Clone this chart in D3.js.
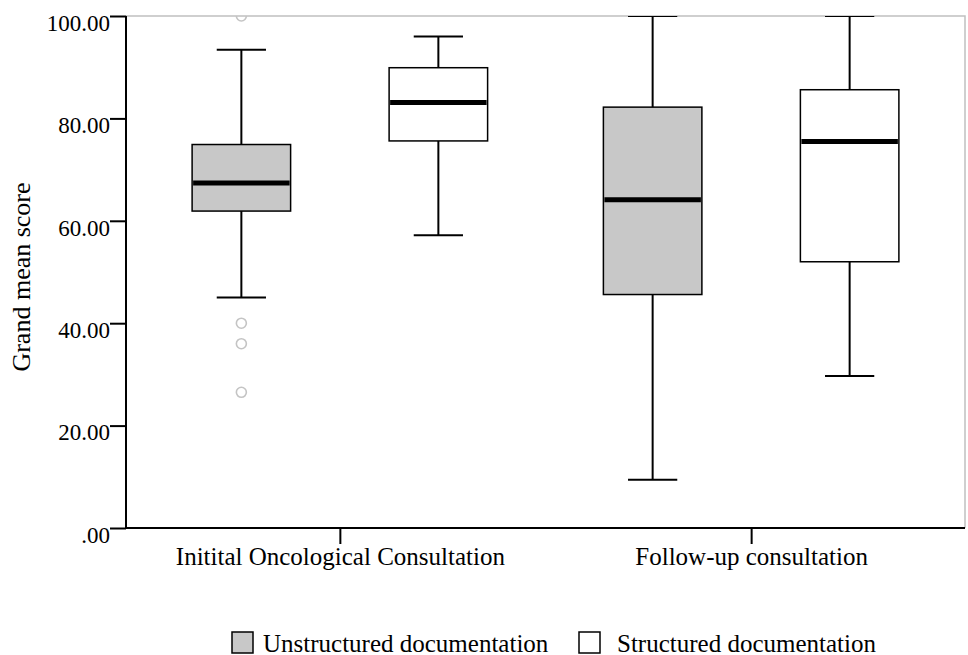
<!DOCTYPE html>
<html lang="en">
<head>
<meta charset="UTF-8">
<title>Grand mean score box plot</title>
<style>
  body { margin: 0; background: #fff; }
  text { font-family: "Liberation Serif", "Times New Roman", serif; fill: #000; }
  .box { stroke: #000; stroke-width: 1.5px; }
  .whisker { stroke: #000; stroke-width: 2px; }
  .median { stroke: #000; stroke-width: 5px; }
  .outlier { fill: none; stroke: #c4c4c4; stroke-width: 1.6px; }
</style>
</head>
<body>
<script src="https://d3js.org/d3.v7.min.js"></script>
<script>
    // data
    const categories = ['Initital Oncological Consultation', 'Follow-up consultation'];
    const series = ['Unstructured documentation', 'Structured documentation'];
    const seriesFill = ['#c8c8c8', '#ffffff'];

    // [category][series] : low whisker, Q1, median, Q3, high whisker
    const lowWhisker = [[45.0, 57.2], [9.4, 29.7]];
    const q1 = [[61.9, 75.6], [45.6, 52.0]];
    const median = [[67.4, 83.1], [64.1, 75.5]];
    const q3 = [[74.9, 89.9], [82.2, 85.6]];
    const highWhisker = [[93.4, 96.0], [100, 100]];
    const outliers = [[[100, 40.0, 36.0, 26.5], []], [[], []]];

    const yTicks = [0, 20, 40, 60, 80, 100];

    const width = 968, height = 655;
    const pLeft = 126, pRight = 965, pTop = 16, pBottom = 528;

    const svg = d3.select('body').append('svg')
        .attr('width', width)
        .attr('height', height);

    const y = d3.scaleLinear().domain([0, 100]).range([pBottom, pTop]);
    const x0 = d3.scalePoint().domain(categories).range([pLeft, pRight]).padding(0.52);
    const x1 = d3.scaleBand().domain(series).range([-197, 197])
        .paddingInner(0.5).paddingOuter(0.25);

    svg.append('clipPath').attr('id', 'plot')
        .append('rect').attr('x', pLeft).attr('y', pTop)
        .attr('width', pRight - pLeft).attr('height', pBottom - pTop);

    // grey frame top / right
    svg.append('path')
        .attr('d', `M${pLeft},${pTop}H${pRight}V${pBottom}`)
        .attr('fill', 'none')
        .attr('stroke', '#c0c0c0')
        .attr('stroke-width', 1.5);

    const rows = [];
    categories.forEach((c, ci) => {
        series.forEach((s, si) => {
            rows.push({
                cat: c, ser: s, si: si,
                lo: lowWhisker[ci][si], q1: q1[ci][si], med: median[ci][si],
                q3: q3[ci][si], hi: highWhisker[ci][si], out: outliers[ci][si]
            });
        });
    });

    const bw = x1.bandwidth();
    const g = svg.append('g').attr('clip-path', 'url(#plot)');

    const box = g.selectAll('g.boxplot')
        .data(rows)
        .enter().append('g')
        .attr('class', 'boxplot')
        .attr('transform', d => `translate(${x0(d.cat) + x1(d.ser) + bw / 2},0)`);

    box.append('line').attr('class', 'whisker')
        .attr('x1', 0).attr('x2', 0)
        .attr('y1', d => y(d.hi)).attr('y2', d => y(d.q3));
    box.append('line').attr('class', 'whisker')
        .attr('x1', 0).attr('x2', 0)
        .attr('y1', d => y(d.q1)).attr('y2', d => y(d.lo));
    box.append('line').attr('class', 'whisker')
        .attr('x1', -bw / 4).attr('x2', bw / 4)
        .attr('y1', d => y(d.hi)).attr('y2', d => y(d.hi));
    box.append('line').attr('class', 'whisker')
        .attr('x1', -bw / 4).attr('x2', bw / 4)
        .attr('y1', d => y(d.lo)).attr('y2', d => y(d.lo));

    box.append('rect').attr('class', 'box')
        .attr('x', -bw / 2).attr('width', bw)
        .attr('y', d => y(d.q3))
        .attr('height', d => y(d.q1) - y(d.q3))
        .attr('fill', d => seriesFill[d.si]);

    box.append('line').attr('class', 'median')
        .attr('x1', -bw / 2 + 1).attr('x2', bw / 2 - 1)
        .attr('y1', d => y(d.med)).attr('y2', d => y(d.med));

    box.selectAll('circle')
        .data(d => d.out)
        .enter().append('circle')
        .attr('class', 'outlier')
        .attr('cx', 0)
        .attr('cy', d => y(d))
        .attr('r', 5);

    // y axis
    const yAxis = svg.append('g')
        .attr('transform', `translate(${pLeft},0)`)
        .call(d3.axisLeft(y).tickValues(yTicks).tickSize(16).tickPadding(0)
            .tickFormat(v => v === 0 ? '.00' : d3.format('.2f')(v)));
    yAxis.selectAll('line, path').attr('stroke', '#000').attr('stroke-width', 2);
    yAxis.select('.domain').attr('d', `M0,${pTop}V${pBottom}`);
    yAxis.selectAll('text')
        .attr('font-size', 23)
        .attr('dy', '0.62em');

    // x axis
    const xAxis = svg.append('g')
        .attr('transform', `translate(0,${pBottom})`)
        .call(d3.axisBottom(x0).tickSize(16).tickPadding(6));
    xAxis.selectAll('line, path').attr('stroke', '#000').attr('stroke-width', 2);
    xAxis.select('.domain').attr('d', `M${pLeft},0H${pRight}`);
    xAxis.selectAll('text')
        .attr('font-size', 25)
        .attr('dy', '0.6em');

    svg.append('text')
        .attr('transform', `translate(30,${(pTop + pBottom) / 2 + 5}) rotate(-90)`)
        .attr('text-anchor', 'middle')
        .attr('font-size', 26)
        .text('Grand mean score');

    // legend
    const legendX = [232, 579];
    const legendTextX = [31, 38];
    const legend = svg.selectAll('g.legend')
        .data(series)
        .enter().append('g')
        .attr('class', 'legend')
        .attr('transform', (d, i) => `translate(${legendX[i]},632)`);
    legend.append('rect')
        .attr('width', 21).attr('height', 21)
        .attr('fill', (d, i) => seriesFill[i])
        .attr('stroke', '#000').attr('stroke-width', 1.5);
    legend.append('text')
        .attr('x', (d, i) => legendTextX[i])
        .attr('y', 19.5)
        .attr('font-size', 25)
        .text(d => d);
</script>
</body>
</html>
